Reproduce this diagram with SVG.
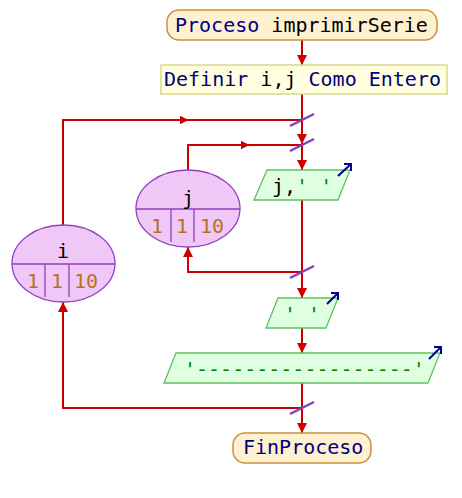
<svg xmlns="http://www.w3.org/2000/svg" width="462" height="498" viewBox="0 0 462 498">
<defs>
<style>
.t{font-family:"DejaVu Sans Mono","Liberation Mono",monospace;font-size:20px}
.kw{fill:#000080}.id{fill:#000000}.str{fill:#008000}.num{fill:#b87020}
.term{fill:#fff0d0;stroke:#c89040;stroke-width:1.5}
.def{fill:#ffffe0;stroke:#d8d890;stroke-width:1.5}
.io{fill:#e0ffe0;stroke:#60c060;stroke-width:1.3}
.loop{fill:#f0c8f8;stroke:#9040c0;stroke-width:1.3}
.sep{stroke:#9040c0;stroke-width:1.3;fill:none}
.ln{stroke:#cc0000;stroke-width:2;fill:none}
.sl{stroke:#8040c0;stroke-width:2.5}
.ico{stroke:#000090;stroke-width:2;fill:none}
</style>
<marker id="ah" viewBox="0 0 10 10" refX="10" refY="5" markerWidth="10" markerHeight="10" markerUnits="userSpaceOnUse" orient="auto"><path d="M0,0L10,5L0,10z" fill="#cc0000"/></marker>
<marker id="am" viewBox="0 0 10 10" refX="5" refY="5" markerWidth="9" markerHeight="9" markerUnits="userSpaceOnUse" orient="auto"><path d="M0,0L10,5L0,10z" fill="#cc0000"/></marker>
</defs>
<g id="connectors">
<line class="ln" x1="302" y1="40" x2="302" y2="65" marker-end="url(#ah)"/>
<line class="ln" x1="302" y1="94" x2="302" y2="144" marker-end="url(#ah)"/>
<line class="ln" x1="302" y1="145" x2="302" y2="170" marker-end="url(#ah)"/>
<line class="ln" x1="302" y1="200" x2="302" y2="298" marker-end="url(#ah)"/>
<line class="ln" x1="302" y1="328" x2="302" y2="353" marker-end="url(#ah)"/>
<line class="ln" x1="302" y1="383" x2="302" y2="433" marker-end="url(#ah)"/>
<polyline class="ln" points="63,225 63,120 302,120"/>
<line class="ln" x1="63" y1="120" x2="184" y2="120" marker-end="url(#am)"/>
<polyline class="ln" points="188,170 188,145 302,145"/>
<line class="ln" x1="188" y1="145" x2="245" y2="145" marker-end="url(#am)"/>
<polyline class="ln" points="302,272 188,272 188,248"/>
<line class="ln" x1="188" y1="262" x2="188" y2="247" marker-end="url(#ah)"/>
<polyline class="ln" points="302,408 63,408 63,303"/>
<line class="ln" x1="63" y1="318" x2="63" y2="302" marker-end="url(#ah)"/>
<line class="sl" x1="290" y1="126" x2="314" y2="114"/>
<line class="sl" x1="290" y1="151" x2="314" y2="139"/>
<line class="sl" x1="290" y1="278" x2="314" y2="266"/>
<line class="sl" x1="290" y1="414" x2="314" y2="402"/>
</g>
<g id="start">
<rect class="term" x="167" y="10" width="270" height="30" rx="12"/>
<text class="t" x="175" y="32"><tspan class="kw">Proceso</tspan><tspan class="id"> imprimirSerie</tspan></text>
</g>
<g id="define">
<rect class="def" x="161" y="65" width="286" height="29"/>
<text class="t" x="164" y="86"><tspan class="kw">Definir</tspan><tspan class="id"> i,j </tspan><tspan class="kw">Como Entero</tspan></text>
</g>
<g id="loop-i">
<ellipse class="loop" cx="63.5" cy="263.5" rx="51.5" ry="38.5"/>
<path class="sep" d="M12,264H115M45,264V297M69,264V297"/>
<text class="t id" x="63" y="258" text-anchor="middle">i</text>
<text class="t num" x="33" y="288" text-anchor="middle">1</text>
<text class="t num" x="57" y="288" text-anchor="middle">1</text>
<text class="t num" x="86" y="288" text-anchor="middle">10</text>
</g>
<g id="loop-j">
<ellipse class="loop" cx="188" cy="208.5" rx="52" ry="38.5"/>
<path class="sep" d="M136,209H240M171,209V242M194,209V242"/>
<text class="t id" x="188" y="205" text-anchor="middle">j</text>
<text class="t num" x="157" y="233" text-anchor="middle">1</text>
<text class="t num" x="182" y="233" text-anchor="middle">1</text>
<text class="t num" x="212" y="233" text-anchor="middle">10</text>
</g>
<g id="out-j">
<polygon class="io" points="267,170 350,170 338,200 254,200"/>
<text class="t" x="272" y="193"><tspan class="id">j,</tspan><tspan class="str">' '</tspan></text>
<path class="ico" d="M338,176L351,164M344,164H351V171"/>
</g>
<g id="out-space">
<polygon class="io" points="278,298 338,298 326,328 266,328"/>
<text class="t str" x="284" y="321">' '</text>
<path class="ico" d="M327,304L338,293M331,293H338V300"/>
</g>
<g id="out-line">
<polygon class="io" points="176,353 440,353 428,383 164,383"/>
<text class="t str" x="184" y="376">'------------------'</text>
<path class="ico" d="M429,359L441,347M434,347H441V354"/>
</g>
<g id="end">
<rect class="term" x="233" y="433" width="138" height="30" rx="12"/>
<text class="t kw" x="243" y="454">FinProceso</text>
</g>
</svg>
